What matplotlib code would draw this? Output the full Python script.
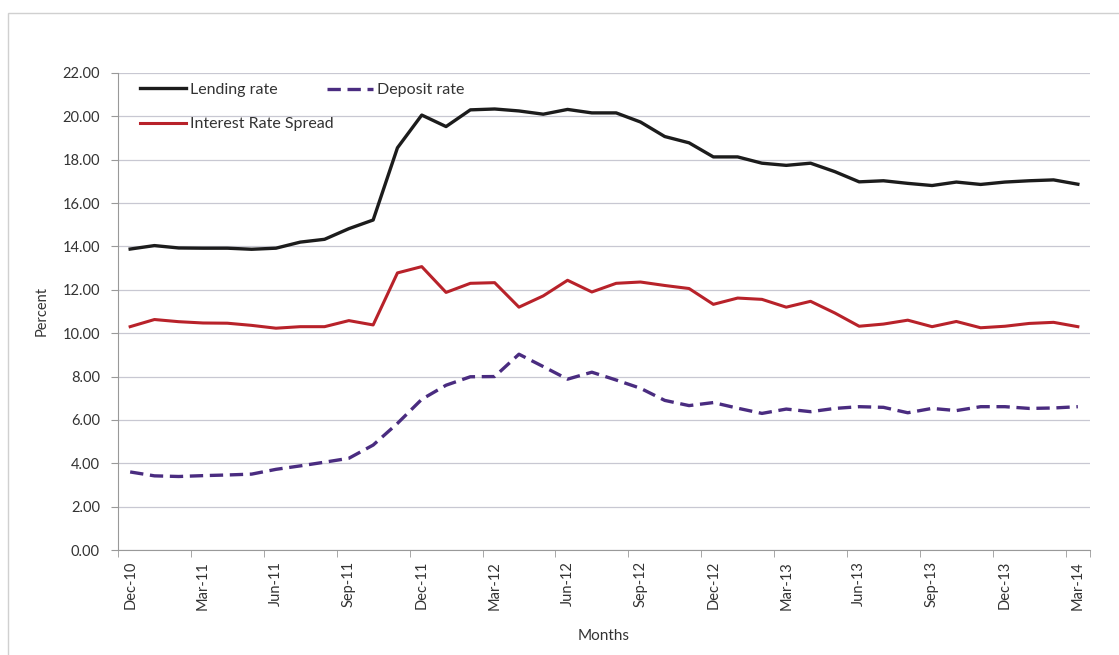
import matplotlib
matplotlib.use("Agg")
import matplotlib.pyplot as plt
from matplotlib.patches import Rectangle

plt.rcParams['font.family'] = ['Lato', 'DejaVu Sans']

months = ["Dec-10", "Jan-11", "Feb-11", "Mar-11", "Apr-11", "May-11", "Jun-11", "Jul-11",
          "Aug-11", "Sep-11", "Oct-11", "Nov-11", "Dec-11", "Jan-12", "Feb-12", "Mar-12",
          "Apr-12", "May-12", "Jun-12", "Jul-12", "Aug-12", "Sep-12", "Oct-12", "Nov-12",
          "Dec-12", "Jan-13", "Feb-13", "Mar-13", "Apr-13", "May-13", "Jun-13", "Jul-13",
          "Aug-13", "Sep-13", "Oct-13", "Nov-13", "Dec-13", "Jan-14", "Feb-14", "Mar-14"]

lending = [13.88, 14.04, 13.93, 13.92, 13.92, 13.87, 13.92, 14.2, 14.33, 14.82,
           15.22, 18.55, 20.06, 19.53, 20.3, 20.34, 20.25, 20.1, 20.32, 20.16,
           20.16, 19.74, 19.07, 18.78, 18.13, 18.13, 17.84, 17.74, 17.84, 17.45,
           16.98, 17.03, 16.91, 16.81, 16.97, 16.86, 16.97, 17.03, 17.07, 16.87]

deposit = [3.6, 3.42, 3.39, 3.43, 3.46, 3.5, 3.72, 3.88, 4.05, 4.23,
           4.84, 5.84, 6.95, 7.6, 7.99, 8.0, 9.03, 8.46, 7.88, 8.2,
           7.84, 7.46, 6.9, 6.66, 6.8, 6.54, 6.3, 6.5, 6.38, 6.53,
           6.61, 6.58, 6.33, 6.53, 6.43, 6.61, 6.61, 6.53, 6.55, 6.61]

spread = [10.3, 10.63, 10.53, 10.47, 10.46, 10.36, 10.23, 10.3, 10.3, 10.58,
          10.38, 12.78, 13.07, 11.88, 12.3, 12.33, 11.2, 11.72, 12.44, 11.9,
          12.3, 12.36, 12.2, 12.06, 11.33, 11.62, 11.56, 11.2, 11.47, 10.93,
          10.32, 10.42, 10.6, 10.3, 10.54, 10.25, 10.32, 10.45, 10.5, 10.3]

yticks = [0, 2, 4, 6, 8, 10, 12, 14, 16, 18, 20, 22]

fig = plt.figure(figsize=(11.19, 6.55), dpi=100)
fig.patches.append(Rectangle((8 / 1119, -0.05), 1.2, (655 - 13) / 655 + 0.05,
                             transform=fig.transFigure, fill=False,
                             edgecolor="#d0d0d0", linewidth=1.0))
ax = fig.add_axes([118 / 1119, 105 / 655, 972 / 1119, 477 / 655])

x = list(range(len(months)))
l1, = ax.plot(x, lending, color="#1c1c1c", lw=2.4, label="Lending rate", solid_joinstyle="round")
l3, = ax.plot(x, spread, color="#b8222a", lw=2.2, label="Interest Rate Spread", solid_joinstyle="round")
l2, = ax.plot(x, deposit, color="#4a2c80", lw=2.4, dashes=(4, 2), label="Deposit rate")

ax.set_xlim(-0.5, len(months) - 0.5)
ax.set_ylim(0, 22)
ax.set_yticks(yticks)
ax.set_yticklabels([f"{v:.2f}" for v in yticks], fontsize=10.5, color="#333333")
ax.grid(axis="y", color="#c8c8d2", lw=0.9)
ax.set_axisbelow(True)

lab_idx = list(range(0, len(months), 3))
ax.set_xticks(lab_idx)
ax.set_xticklabels([months[i] for i in lab_idx], rotation=90, fontsize=10.5, color="#333333")
ax.tick_params(axis="x", which="major", length=0, pad=8)
ax.set_xticks([i - 0.5 for i in lab_idx] + [len(months) - 0.5], minor=True)
ax.tick_params(axis="x", which="minor", length=5, color="#999999")
ax.tick_params(axis="y", length=5, color="#999999", pad=8)

for s in ["top", "right"]:
    ax.spines[s].set_visible(False)
for s in ["left", "bottom"]:
    ax.spines[s].set_color("#999999")

ax.set_ylabel("Percent", fontsize=10.5, color="#333333", labelpad=10)
ax.set_xlabel("Months", fontsize=11, color="#333333", labelpad=14)

common = dict(frameon=False, loc="center left", fontsize=11.5, handlelength=2.9,
              handletextpad=0.25, borderpad=0, borderaxespad=0)
leg1 = ax.legend(handles=[l1, l3], bbox_to_anchor=(22 / 972, 1 - 34 / 477),
                 labelspacing=1.25, **common)
for t in leg1.get_texts():
    t.set_color("#333333")
ax.add_artist(leg1)
leg2 = ax.legend(handles=[l2], bbox_to_anchor=(209 / 972, 1 - 17 / 477), **common)
for t in leg2.get_texts():
    t.set_color("#333333")

fig.savefig("out.png", dpi=100)
